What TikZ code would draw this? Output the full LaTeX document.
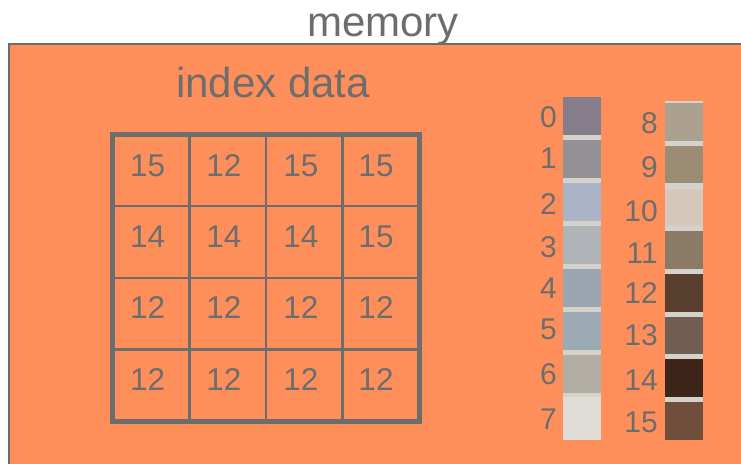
\documentclass[tikz,border=0pt]{standalone}
\usepackage{fontspec}
\setmainfont{Liberation Sans}

% palette and frame colours
\definecolor{ink}{HTML}{6D6D6D}
\definecolor{mem}{HTML}{FF8F5A}
\definecolor{band}{HTML}{D5D1CB}
\definecolor{pal0}{HTML}{857D8A}
\definecolor{pal1}{HTML}{939196}
\definecolor{pal2}{HTML}{ABB4C6}
\definecolor{pal3}{HTML}{B0B3B8}
\definecolor{pal4}{HTML}{9BA5B0}
\definecolor{pal5}{HTML}{9CAAB3}
\definecolor{pal6}{HTML}{B3AEA4}
\definecolor{pal7}{HTML}{E0DCD6}
\definecolor{pal8}{HTML}{ACA08E}
\definecolor{pal9}{HTML}{9C8C74}
\definecolor{pal10}{HTML}{D4C8BB}
\definecolor{pal11}{HTML}{8B7B66}
\definecolor{pal12}{HTML}{583F2E}
\definecolor{pal13}{HTML}{735F51}
\definecolor{pal14}{HTML}{3D2619}
\definecolor{pal15}{HTML}{6F4F3C}

\tikzset{
  title/.style={font=\fontsize{42}{48}\selectfont, text=ink, inner sep=0pt, anchor=base},
  cellval/.style={font=\fontsize{31.5}{36}\selectfont, text=ink, inner sep=0pt},
  idxlabel/.style={font=\fontsize{30}{36}\selectfont, text=ink, inner sep=0pt, anchor=base east},
  swatch/.style={draw=none, inner sep=0pt, minimum width=38pt, anchor=north west},
}

\begin{document}
\begin{tikzpicture}[x=1pt,y=-1pt]
\useasboundingbox (0,0) rectangle (741,463);
\clip (0,0) rectangle (741,463);
\fill[white] (0,0) rectangle (741,463);

% memory block (runs off the right and bottom edges)
\draw[ink, line width=2pt, fill=mem] (9,44) rectangle (800,520);
\node[title] (memtitle) at (383,36) {memory};
\node[title] (idxtitle) at (273,97) {index data};

% 4x4 index grid
\draw[ink, line width=2.4pt]
  (189.3,134) -- (189.3,422) (265.7,134) -- (265.7,422) (342.3,134) -- (342.3,422)
  (112,206) -- (420,206) (112,277.7) -- (420,277.7) (112,349.3) -- (420,349.3);
\draw[ink, line width=5pt] (112.5,134.2) rectangle (419.2,421.5);

\foreach \row/\y/\a/\b/\c/\d in {1/165.7/15/12/15/15, 2/236.7/14/14/14/15,
                                 3/307.7/12/12/12/12, 4/379/12/12/12/12} {
  \node[cellval] (c\row-1) at (147.7,\y) {\a};
  \node[cellval] (c\row-2) at (224,\y) {\b};
  \node[cellval] (c\row-3) at (301,\y) {\c};
  \node[cellval] (c\row-4) at (376,\y) {\d};
}

% palette, entries 0-7
\fill[band] (563,97) rectangle (601,440);
\foreach \i/\bl in {0/127,1/168,2/214,3/257,4/298,5/339,6/384,7/429} {
  \node[swatch, fill=pal\i, minimum height=38pt] (sw\i) at (563,{97+42.9*\i}) {};
  \node[idxlabel] (lab\i) at (557,\bl) {\i};
}
\fill[pal7] (563,397) rectangle (601,440);

% palette, entries 8-15
\fill[band] (665,100.5) rectangle (703,440);
\foreach \i/\k/\bl in {8/0/133,9/1/177,10/2/221,11/3/263,12/4/303,13/5/345,14/6/390,15/7/432} {
  \node[swatch, fill=pal\i, minimum height=37.5pt] (sw\i) at (665,{103+42.7*\k}) {};
  \node[idxlabel] (lab\i) at (658,\bl) {\i};
}
\end{tikzpicture}
\end{document}
